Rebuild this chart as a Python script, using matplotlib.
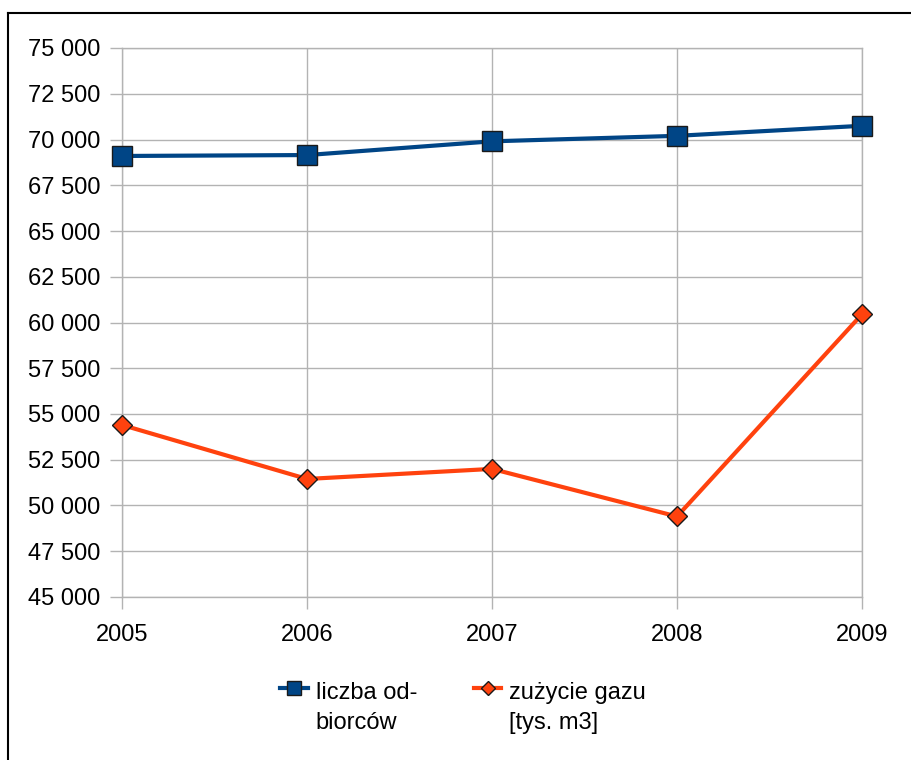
import matplotlib.pyplot as plt
from matplotlib.ticker import FuncFormatter, MultipleLocator
from matplotlib.legend_handler import HandlerLine2D

plt.rcParams['font.family'] = ['Liberation Sans', 'DejaVu Sans']

years = [2005, 2006, 2007, 2008, 2009]
odbiorcy = [69100, 69150, 69900, 70200, 70750]
zuzycie = [54400, 51450, 52000, 49400, 60450]
labels = ['liczba od-\nbiorców', 'zużycie gazu\n[tys. m3]']


class TopHandler(HandlerLine2D):
    # put the legend symbol level with the first text line
    def create_artists(self, legend, orig_handle, xdescent, ydescent,
                       width, height, fontsize, trans):
        return super().create_artists(legend, orig_handle, xdescent, ydescent - 30,
                                      width, height, fontsize, trans)


fig = plt.figure(figsize=(9.12, 7.6), dpi=100)
ax = fig.add_axes([122/912, 1 - 597/760, 740/912, 549/760])

grid_c = '#b3b3b3'
l1, = ax.plot(years, odbiorcy, color='#004586', lw=3, marker='s', ms=15,
              mec='#1a1a1a', mew=1, label=labels[0], zorder=3, clip_on=False)
l2, = ax.plot(years, zuzycie, color='#ff420e', lw=3, marker='D', ms=10.5,
              mec='#1a1a1a', mew=1, label=labels[1], zorder=3, clip_on=False)

ax.set_xlim(2005, 2009)
ax.set_ylim(45000, 75000)
ax.set_xticks(years)
ax.yaxis.set_major_locator(MultipleLocator(2500))
ax.yaxis.set_major_formatter(FuncFormatter(lambda v, p: f'{int(v):,}'.replace(',', ' ')))
ax.grid(True, color=grid_c, lw=1)
ax.set_axisbelow(True)
for s in ax.spines.values():
    s.set_color(grid_c)
    s.set_linewidth(1)
ax.tick_params(axis='both', colors=grid_c, labelcolor='black', labelsize=17,
               length=8.5, width=1)
ax.tick_params(axis='y', pad=7)
ax.tick_params(axis='x', pad=11)

leg = fig.legend(loc='center', bbox_to_anchor=(0.508, 0.068), ncol=2, frameon=False,
                 fontsize=17, handlelength=1.15, handletextpad=0.35, columnspacing=2.4,
                 markerscale=0.68,
                 handler_map={l1: TopHandler(), l2: TopHandler()})
for t in leg.get_texts():
    t.set_linespacing(1.45)

# partial frame like the original export
fig.add_artist(plt.Line2D([8/912, 8/912], [0, 1 - 13/760], transform=fig.transFigure,
                          color='black', lw=1.5))
fig.add_artist(plt.Line2D([8/912, 1], [1 - 13/760, 1 - 13/760], transform=fig.transFigure,
                          color='black', lw=1.5))

fig.savefig('out.png', dpi=100)
